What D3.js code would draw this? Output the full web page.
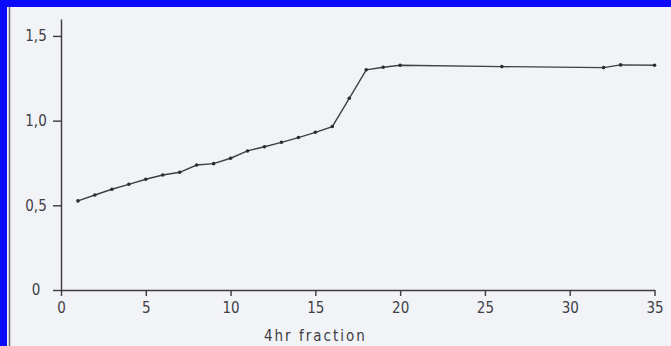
<!DOCTYPE html>
<html>
<head>
<meta charset="utf-8">
<script src="https://cdn.jsdelivr.net/npm/d3@7"></script>
<style>
  html, body { margin: 0; padding: 0; background: #0a0aff; }
  svg { display: block; }
</style>
</head>
<body>
<div id="chart"></div>
<script>
// fractions (4 hr) and cumulative values
const fractions = [1, 2, 3, 4, 5, 6, 7, 8, 9, 10, 11, 12, 13, 14, 15, 16,
                   17, 18, 19, 20, 26, 32, 33, 35];
const values = [0.526, 0.561, 0.595, 0.624, 0.654, 0.679, 0.695, 0.738,
                0.746, 0.778, 0.821, 0.846, 0.872, 0.900, 0.931, 0.965,
                1.132, 1.300, 1.315, 1.327, 1.319, 1.313, 1.329, 1.327];
const xTicks = [0, 5, 10, 15, 20, 25, 30, 35];
const yTicks = [0, 0.5, 1.0, 1.5];
const yTickLabels = ['0', '0,5', '1,0', '1,5'];
const xTitle = '4hr fraction';

const WIDTH = 671;
const HEIGHT = 346;
const FONT = '"DejaVu Sans Condensed", "Liberation Sans Narrow", "DejaVu Sans", sans-serif';

const svg = d3.select('#chart')
              .append('svg')
              .attr('width', WIDTH)
              .attr('height', HEIGHT);

// scanned page, blue frame on top and left
svg.append('rect')
   .attr('x', 7).attr('y', 7)
   .attr('width', WIDTH - 7).attr('height', HEIGHT - 7)
   .attr('fill', '#f1f3f6');
svg.append('line')
   .attr('x1', 9.5).attr('x2', 9.5)
   .attr('y1', 7).attr('y2', HEIGHT)
   .attr('stroke', '#6a6a70')
   .attr('stroke-width', 1.5);

const xScale = d3.scaleLinear().domain([0, 35]).range([61, 654.5]);
const yScale = d3.scaleLinear().domain([0, 1.6]).range([290, 19]);

// axes
const xAxis = d3.axisBottom(xScale)
                .tickValues(xTicks)
                .tickSize(6)
                .tickSizeOuter(0)
                .tickPadding(6)
                .tickFormat(d3.format('d'));
const yAxis = d3.axisLeft(yScale)
                .tickValues(yTicks)
                .tickSize(8)
                .tickSizeOuter(0)
                .tickFormat((d, i) => yTickLabels[i]);

const gx = svg.append('g')
              .attr('transform', 'translate(0,' + yScale(0) + ')')
              .call(xAxis);
const gy = svg.append('g')
              .attr('transform', 'translate(' + xScale(0) + ',0)')
              .call(yAxis);

[gx, gy].forEach((g) => {
  g.select('.domain').attr('stroke', '#3c3c40').attr('stroke-width', 1.4);
  g.selectAll('.tick line').attr('stroke', '#3c3c40').attr('stroke-width', 1.4);
  g.selectAll('.tick text')
   .attr('fill', '#404046')
   .style('font-family', FONT)
   .style('font-size', '15px');
});
gy.selectAll('.tick text')
  .attr('text-anchor', 'middle')
  .attr('x', -25);

svg.append('text')
   .attr('x', xScale(15))
   .attr('y', 341)
   .attr('text-anchor', 'middle')
   .attr('fill', '#3e3e44')
   .style('font-family', FONT)
   .style('font-size', '15px')
   .style('letter-spacing', '2px')
   .text(xTitle);

// curve
const points = fractions.map((f, i) => [f, values[i]]);
const line = d3.line()
               .x((d) => xScale(d[0]))
               .y((d) => yScale(d[1]));
svg.append('path')
   .datum(points)
   .attr('fill', 'none')
   .attr('stroke', '#3e4044')
   .attr('stroke-width', 1.4)
   .attr('d', line);
svg.append('g')
   .selectAll('circle')
   .data(points)
   .enter()
   .append('circle')
   .attr('cx', (d) => xScale(d[0]))
   .attr('cy', (d) => yScale(d[1]))
   .attr('r', 1.8)
   .attr('fill', '#2a2c30');
</script>
</body>
</html>
